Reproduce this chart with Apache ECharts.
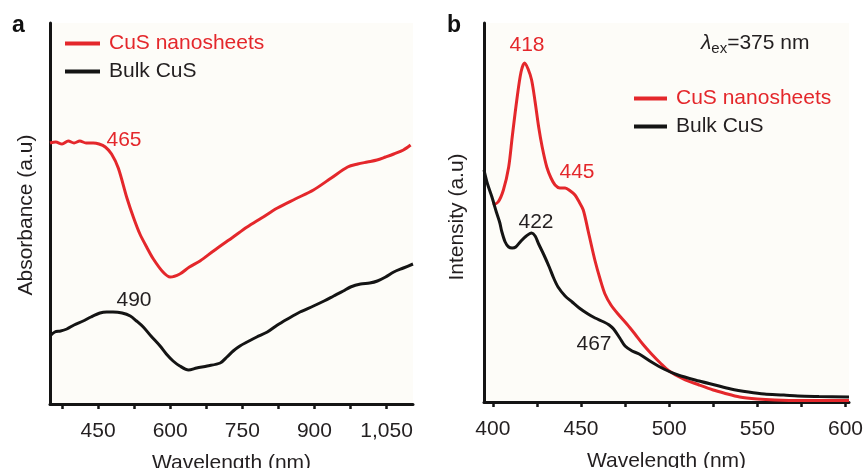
<!DOCTYPE html>
<html><head><meta charset="utf-8">
<script src="https://cdn.jsdelivr.net/npm/echarts@6/dist/echarts.min.js"></script>
<style>html,body{margin:0;padding:0;background:#fff}#c{width:864px;height:468px}</style>
</head><body><div id="c"></div>
<script>
// ---- Panel a: absorbance (a.u.) ----
const absNanoX = [350,362,375,388,400,412,425,440,452,465,478,492,510,524,537,551,565,585,600,620,640,662,690,731,760,790,823,860,898,935,969,990,1010,1030,1048,1065,1085,1100];
const absNanoY = [261,262,260,263,261,263,261,261,260,257,250,236,206,186,170,157,145,132,127,130,137,143,153,167,177,186,196,205,214,226,237,240,242,244,247,250,254,259];
const absBulkX = [350,360,372,385,400,419,435,454,468,481,500,517,530,544,560,579,592,606,620,638,655,677,704,718,731,745,760,780,802,823,844,870,898,920,940,960,975,996,1015,1031,1048,1065,1085,1105];
const absBulkY = [68,72,73,75,79,83,87,91,92,92,91,88,83,77,68,58,50,43,38,34,36,38,41,47,53,58,62,67,72,79,85,92,98,103,108,113,117,120,121,123,127,132,136,140];
const absTicks = [375,450,525,600,675,750,825,900,975,1050];
const absLabels = [450,600,750,900,1050];

// ---- Panel b: PL intensity (a.u.) ----
const plNanoX = [400,403,406,409,411,413.6,416,418,420,422,424,426,428,430.6,433,435.3,438,441,444,446.6,449,451.3,454.2,458,461,463.6,467,471,476,480.6,485,490,495,500,508,517,525,531,540,550,560,575,602];
const plNanoY = [197,200,212,235,265,302,330,339,333,322,300,275,255,235,224,217,214,214,211,207,200,192,170,141,122,108,97,88,78,68,58,48,39,31,23,17,12,9,5,3,2,1.5,1.5];
const plBulkX = [395,397,399.5,402,404,405,407,409,411,413,416,419,422,424,426,429,432,434.5,437,441,445,449,454,458,463,466,468.5,472,475,479,483,490,497,505,517,526,535,545,554,565,573,585,602];
const plBulkY = [232,218,205,190,179,171,160,155,154,155,161,166,169,166,158,147,135,124,115,106,100,94,88,84,80,77,73,64,56,51,48,40,33,27,21,17,13,10,8,7,6,5.5,5];
const plTicks = [400,425,450,475,500,525,550,575,600];
const plLabels = [400,450,500,550,600];

const seriesNames = ['CuS nanosheets','Bulk CuS'];
const RED = '#e4272b', BLK = '#141414', TXT = '#231f20';
const FONT = '"Liberation Sans", Arial, Helvetica, sans-serif';

const zip = (xs, ys) => xs.map((x, i) => [x, ys[i]]);

function xAxisCfg(gi, min, max, ticks, labels) {
  return {
    gridIndex: gi, type: 'value', min: min, max: max,
    axisLine: {show: true, lineStyle: {color: BLK, width: 3}},
    axisTick: {show: true, customValues: ticks, length: 5, lineStyle: {color: BLK, width: 2.5}},
    axisLabel: {customValues: labels, margin: 17, fontSize: 21, color: TXT, fontFamily: FONT,
      formatter: v => Number(v).toLocaleString('en-US')},
    splitLine: {show: false},
    name: 'Wavelength (nm)', nameLocation: 'middle', nameGap: 49,
    nameTextStyle: {fontSize: 21, color: TXT, fontFamily: FONT}
  };
}
function yAxisCfg(gi, max, name, gap, shift) {
  return {
    gridIndex: gi, type: 'value', min: 0, max: max,
    axisLine: {show: true, onZero: false, lineStyle: {color: BLK, width: 3}},
    axisTick: {show: false}, axisLabel: {show: false}, splitLine: {show: false},
    name: name, nameLocation: 'middle', nameGap: gap,
    nameTextStyle: {fontSize: 21, color: TXT, fontFamily: FONT, padding: [0, shift, 0, 0]}
  };
}
function lineSeries(name, xi, data, color) {
  return {
    type: 'line', name: name, xAxisIndex: xi, yAxisIndex: xi, data: data,
    showSymbol: false, smooth: 0.3,
    lineStyle: {color: color, width: 3}, itemStyle: {color: color}, silent: true
  };
}
function legendCfg(left, top, w) {
  return {
    left: left, top: top, orient: 'vertical', padding: 0, icon: 'rect',
    itemWidth: w, itemHeight: 4, itemGap: 7, selectedMode: false,
    textStyle: {fontSize: 21, lineHeight: 21, fontFamily: FONT, padding: [0, 0, 0, 4]},
    data: [{name: seriesNames[0], textStyle: {color: RED}}, {name: seriesNames[1], textStyle: {color: TXT}}]
  };
}
function txt(t, x, y, color, extra) {
  return Object.assign({type: 'text', z: 50, style: {text: t, x: x, y: y, align: 'center', verticalAlign: 'middle',
    fontSize: 21, fontFamily: FONT, fill: color}}, extra || {});
}

const chart = echarts.init(document.getElementById('c'), null, {renderer: 'canvas'});
chart.setOption({
  animation: false,
  backgroundColor: '#ffffff',
  grid: [
    {left: 50, top: 23, width: 363, height: 381, show: true, backgroundColor: '#fdfcf8', borderWidth: 0,
     containLabel: false, outerBoundsMode: 'none'},
    {left: 484, top: 23, width: 365, height: 379, show: true, backgroundColor: '#fdfcf8', borderWidth: 0,
     containLabel: false, outerBoundsMode: 'none'}
  ],
  xAxis: [xAxisCfg(0, 350, 1105, absTicks, absLabels), xAxisCfg(1, 395, 602, plTicks, plLabels)],
  yAxis: [yAxisCfg(0, 381, 'Absorbance (a.u)', 13, 3), yAxisCfg(1, 379, 'Intensity (a.u)', 16, 9)],
  legend: [legendCfg(65, 33, 35), legendCfg(634, 88, 33)],
  series: [
    lineSeries(seriesNames[0], 0, zip(absNanoX, absNanoY), RED),
    lineSeries(seriesNames[1], 0, zip(absBulkX, absBulkY), BLK),
    lineSeries(seriesNames[0], 1, zip(plNanoX, plNanoY), RED),
    lineSeries(seriesNames[1], 1, zip(plBulkX, plBulkY), BLK)
  ],
  graphic: [
    {type: 'text', z: 50, style: {text: 'a', x: 12, y: 26, verticalAlign: 'middle', fontSize: 23, fontWeight: 'bold', fontFamily: FONT, fill: '#111'}},
    {type: 'text', z: 50, style: {text: 'b', x: 447, y: 26, verticalAlign: 'middle', fontSize: 23, fontWeight: 'bold', fontFamily: FONT, fill: '#111'}},
    txt('465', 124, 140, RED),
    txt('490', 134, 300, TXT),
    txt('418', 527, 45, RED),
    txt('445', 577, 172, RED),
    txt('422', 536, 222, TXT),
    txt('467', 594, 344, TXT),
    {type: 'text', z: 50, style: {
      text: '{l|λ}{s|ex}{n|=375 nm}', x: 701, y: 43, align: 'left', verticalAlign: 'middle',
      fontFamily: FONT, fill: TXT,
      rich: {
        l: {fontSize: 21, fontStyle: 'italic', fontFamily: FONT, fill: TXT, lineHeight: 30, verticalAlign: 'middle'},
        s: {fontSize: 15, fontFamily: FONT, fill: TXT, lineHeight: 30, verticalAlign: 'bottom', padding: [0, 0, 2, 0]},
        n: {fontSize: 21, fontFamily: FONT, fill: TXT, lineHeight: 30, verticalAlign: 'middle'}
      }}}
  ]
});
</script>
</body></html>
